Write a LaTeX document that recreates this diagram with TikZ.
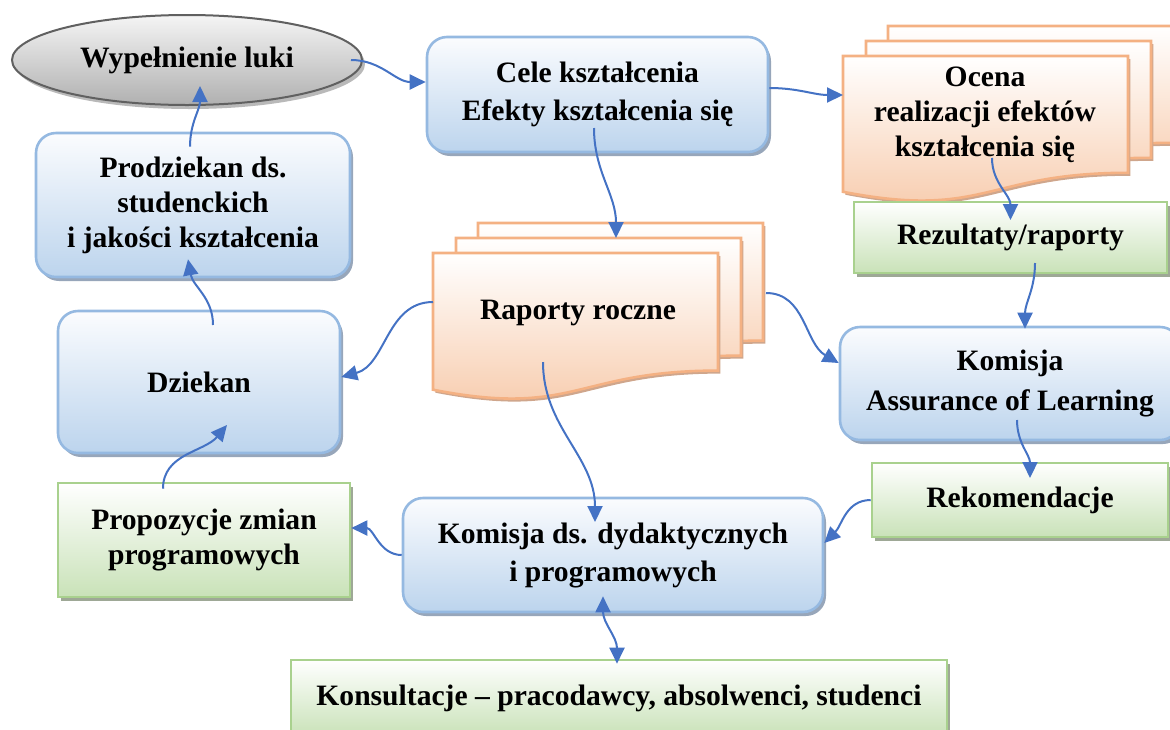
\documentclass[tikz,border=0pt]{standalone}
\usepackage{fontspec}
\setmainfont{Liberation Serif}
\usetikzlibrary{shapes.geometric,shadows,arrows.meta}

\definecolor{linkblue}{HTML}{4472C4}
\definecolor{blueedge}{HTML}{95B9E1}
\definecolor{bluetop}{HTML}{FBFCFE}
\definecolor{bluebot}{HTML}{BCD4ED}
\definecolor{greenedge}{HTML}{A9D18E}
\definecolor{greenbot}{HTML}{C9E2B8}
\definecolor{orangeedge}{HTML}{F4B183}
\definecolor{orangebot}{HTML}{F7C9A9}
\definecolor{shadowblue}{HTML}{97A6BA}
\definecolor{shadowgreen}{HTML}{9EA896}
\definecolor{shadoworange}{HTML}{CFA68C}

% one page of a document stack: x, top y, width, height
\newcommand{\docpage}[4]{%
	\path[docpage] (#1,#2) -- (#1+#3,#2) -- (#1+#3,#2+0.8*#4)
		.. controls (#1+0.5*#3,#2+0.8*#4) and (#1+0.5*#3,#2+1.12*#4) .. (#1,#2+0.93*#4) -- cycle;}
\newcommand{\docstack}[4]{%
	\docpage{#1+45}{#2-30}{#3}{#4}
	\docpage{#1+23}{#2-15}{#3}{#4}
	\docpage{#1}{#2}{#3}{#4}}

\begin{document}
\begin{tikzpicture}[
		x=0.5pt, y=-0.5pt,
		every node/.style={font=\bfseries\fontsize{14.8}{17.5}\selectfont, align=center, inner sep=0pt},
		bluebox/.style={rounded corners=10pt, draw=blueedge, line width=1.3pt,
			top color=bluetop, bottom color=bluebot,
			general shadow={fill=shadowblue, shadow xshift=1.5pt, shadow yshift=-2pt}},
		greenbox/.style={draw=greenedge, line width=1.3pt,
			top color=white, bottom color=greenbot,
			general shadow={fill=shadowgreen, shadow xshift=1.5pt, shadow yshift=-2pt}},
		docpage/.style={draw=orangeedge, line width=1.3pt,
			top color=white, bottom color=orangebot,
			general shadow={fill=shadoworange, shadow xshift=1.2pt, shadow yshift=-1.5pt}},
		gapnode/.style={ellipse, draw=gray!75!black, line width=1pt,
			top color=gray!8, bottom color=gray!62,
			general shadow={fill=gray!55, shadow xshift=1.5pt, shadow yshift=-2pt}},
		link/.style={draw=linkblue, line width=1pt, -{Triangle[length=8pt,width=7.5pt]}},
		twoway/.style={link, {Triangle[length=8pt,width=7.5pt]}-{Triangle[length=8pt,width=7.5pt]}}]

	\useasboundingbox (0,0) rectangle (1170,729);

	% document stacks
	\docstack{843}{56}{285}{146}
	\docstack{433}{253}{285}{147}

	\node (oce) at (985,115) {Ocena\\realizacji efektów\\kształcenia się};
	\node (rap) at (578,313) {Raporty roczne};

	\node[gapnode, minimum width=175pt, minimum height=45pt] (ell) at (187,60) {Wypełnienie luki};
	\node[bluebox, minimum width=170.5pt, minimum height=57.5pt, font=\bfseries\fontsize{14.8}{19}\selectfont] (cele) at (597.5,94.5) {Cele kształcenia\\Efekty kształcenia się};
	\node[bluebox, minimum width=157pt, minimum height=72pt] (prodz) at (193,205) {Prodziekan ds.\\studenckich\\i jakości kształcenia};
	\node[greenbox, minimum width=156.5pt, minimum height=35.5pt] (rez) at (1010.5,237.5) {Rezultaty/raporty};
	\node[bluebox, minimum width=141pt, minimum height=71pt] (dz) at (199,382) {Dziekan};
	\node[bluebox, minimum width=170pt, minimum height=56.5pt, font=\bfseries\fontsize{14.8}{20}\selectfont] (aol) at (1010,383.5) {Komisja\\Assurance of Learning};
	\node[greenbox, minimum width=148pt, minimum height=37pt] (rek) at (1020,500) {Rekomendacje};
	\node[greenbox, minimum width=146pt, minimum height=57pt] (prop) at (204,540) {Propozycje zmian\\programowych};
	\node[bluebox, minimum width=210pt, minimum height=57pt, font=\bfseries\fontsize{14.8}{19}\selectfont] (komds) at (613,555) {Komisja ds. dydaktycznych\\i programowych};
	\node[greenbox, minimum width=328pt, minimum height=38pt] (kons) at (619,698) {Konsultacje -- pracodawcy, absolwenci, studenci};

	% connectors
	\draw[link] ([xshift=-6pt]ell.east) to[out=0,in=180] ([yshift=6.25pt]cele.west);
	\draw[link] ([yshift=3.25pt]cele.east) to[out=0,in=180] ([xshift=-71pt,yshift=10pt]oce.center);
	\draw[link] ([xshift=-1.75pt,yshift=-16.75pt]cele.center) to[out=-90,in=90] ([xshift=19pt,yshift=37.5pt]rap.center);
	\draw[link] ([xshift=3.5pt,yshift=-21.5pt]oce.center) to[out=-90,in=90] ([yshift=8.75pt]rez.center);
	\draw[link] ([xshift=12.25pt,yshift=-12.75pt]rez.center) to[out=-90,in=90] ([xshift=7.5pt,yshift=-1.5pt]aol.north);
	\draw[link] ([xshift=3.5pt,yshift=-18.25pt]aol.center) to[out=-90,in=90] ([xshift=5pt,yshift=11pt]rek.center);
	\draw[link] (rek.west) to[out=180,in=45] ([yshift=6pt]komds.east);
	\draw[link] ([xshift=94pt,yshift=10pt]rap.center) to[out=0,in=150] ([yshift=10.25pt]aol.west);
	\draw[link] ([xshift=-72.5pt,yshift=5.5pt]rap.center) to[out=180,in=15] ([yshift=2.5pt]dz.east);
	\draw[link] ([xshift=-17.5pt,yshift=-24.5pt]rap.center) to[out=-90,in=90] ([xshift=-9pt,yshift=16.5pt]komds.center);
	\draw[link] (komds.west) to[out=180,in=0] ([yshift=6pt]prop.east);
	\draw[link] ([xshift=-20.5pt,yshift=-3.5pt]prop.north) to[out=90,in=230] ([xshift=14pt,yshift=-21.5pt]dz.center);
	\draw[link] ([xshift=7pt,yshift=28.5pt]dz.center) to[out=90,in=-80] ([xshift=-2.5pt,yshift=9.5pt]prodz.south);
	\draw[link] ([xshift=-1.5pt,yshift=-7.5pt]prodz.north) to[out=90,in=-90] ([xshift=6.5pt,yshift=10pt]ell.south);
	\draw[twoway] ([xshift=-5pt,yshift=8.5pt]komds.south) to[out=-90,in=90] ([xshift=-1pt,yshift=-2.5pt]kons.north);

\end{tikzpicture}
\end{document}
